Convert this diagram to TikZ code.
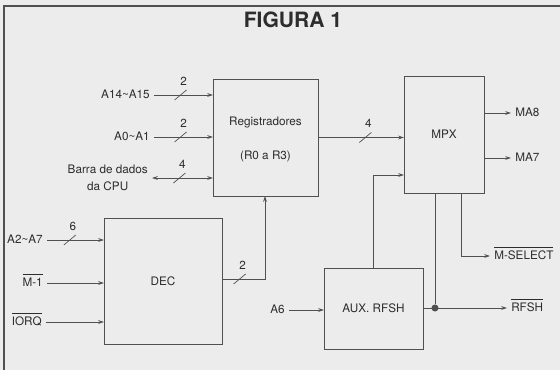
\documentclass[tikz,border=0pt]{standalone}
\usepackage{fontspec}
\setmainfont{TeX Gyre Heros}
\usetikzlibrary{positioning, arrows.meta, calc, decorations.markings}

\definecolor{paper}{RGB}{236,236,236}
\definecolor{linegray}{RGB}{80,80,80}
\definecolor{ink}{RGB}{45,45,45}

\newcommand{\negsig}[1]{$\overline{\mbox{#1}\rule{0pt}{9.5pt}}$}

\tikzset{
  blk/.style={draw=linegray, outer sep=0pt, inner sep=0pt},
  sig/.style={text height=1.6ex, text depth=.3ex},
  bus/.style 2 args={postaction={decorate, decoration={markings,
      mark=at position #1 with {\draw[-] (-6,5) -- (6,-5); \node at (3,-14) {#2};}}}},
  dot/.style={circle, fill=linegray, inner sep=0pt, minimum size=6pt}
}

\begin{document}
\begin{tikzpicture}[x=0.03cm, y=-0.03cm, line width=0.6pt, draw=linegray,
    >={Stealth[length=5pt,width=3.2pt]},
    every node/.append style={text=ink, font=\fontsize{10}{15}\selectfont}]
    \useasboundingbox (0,0) rectangle (560,370);
    \fill[paper] (0,0) rectangle (560,370);
    \draw[line width=1pt] (4,370) -- (4,6) -- (560,6);

    \node[font=\fontsize{18}{20}\selectfont\bfseries] (title) at (293,20) {FIGURA 1};

    % blocos
    \node[blk, minimum width=3.15cm, minimum height=3.51cm] (reg) at (265.5,137.5) {};
    \node (regname) at (265.5,123) {Registradores};
    \node (regsub) at (265.5,156) {(R0 a R3)};
    \node[blk, minimum width=2.4cm, minimum height=3.51cm] (mpx) at (444,134.5) {MPX};
    \node[blk, minimum width=3.54cm, minimum height=3.78cm] (dec) at (163,281) {DEC};
    \node[blk, minimum width=2.97cm, minimum height=2.43cm] (aux) at (373.5,308.5) {AUX. RFSH};

    % entradas
    \node[sig, left] (a14) at (154,95) {A14\textasciitilde A15};
    \node[sig, left] (a0) at (154,137) {A0\textasciitilde A1};
    \node[left, align=center] (cpu) at (152,178) {Barra de dados\\da CPU};
    \node[sig, left] (a2) at (47,240) {A2\textasciitilde A7};
    \node[sig, left] (m1) at (47,283) {\negsig{M-1}};
    \node[sig, left] (iorq) at (46,322) {\negsig{IORQ}};
    \node[sig, left] (a6) at (289,310) {A6};

    % saidas
    \node[sig, right] (ma8) at (511,113) {MA8};
    \node[sig, right] (ma7) at (511,158) {MA7};
    \node[sig, right] (msel) at (490,256) {\negsig{M-SELECT}};
    \node[sig, right] (rfsh) at (507,308) {\negsig{RFSH}};
    \node[dot] (tap) at (435,308) {};
    \coordinate (decout) at (265,279);
    \coordinate (fb) at (373,175);
    \coordinate (mselx) at (461,0);

    \draw[->, bus={.45}{2}] (a14) -- (a14 -| reg.west);
    \draw[->, bus={.45}{2}] (a0) -- (a0 -| reg.west);
    \draw[<->, bus={.45}{4}] (cpu) -- (cpu -| reg.west);
    \draw[->, bus={.4}{6}] (a2) -- (a2 -| dec.west);
    \draw[->] (m1) -- (m1 -| dec.west);
    \draw[->] (iorq) -- (iorq -| dec.west);
    \draw[->, bus={.14}{2}] (dec.east |- decout) -| (reg.south -| decout);
    \draw[->, bus={.55}{4}] (reg) -- (reg -| mpx.west);
    \draw[->] (a6) -- (a6 -| aux.west);
    \draw[->] (aux.north -| fb) |- (fb -| mpx.west);
    \draw[->] (ma8 -| mpx.east) -- (ma8);
    \draw[->] (ma7 -| mpx.east) -- (ma7);
    \draw[->] (mpx.south -| mselx) |- (msel);
    \draw[->] (aux.east |- rfsh) -- (rfsh);
    \draw (tap) -- (tap |- mpx.south);
\end{tikzpicture}
\end{document}
